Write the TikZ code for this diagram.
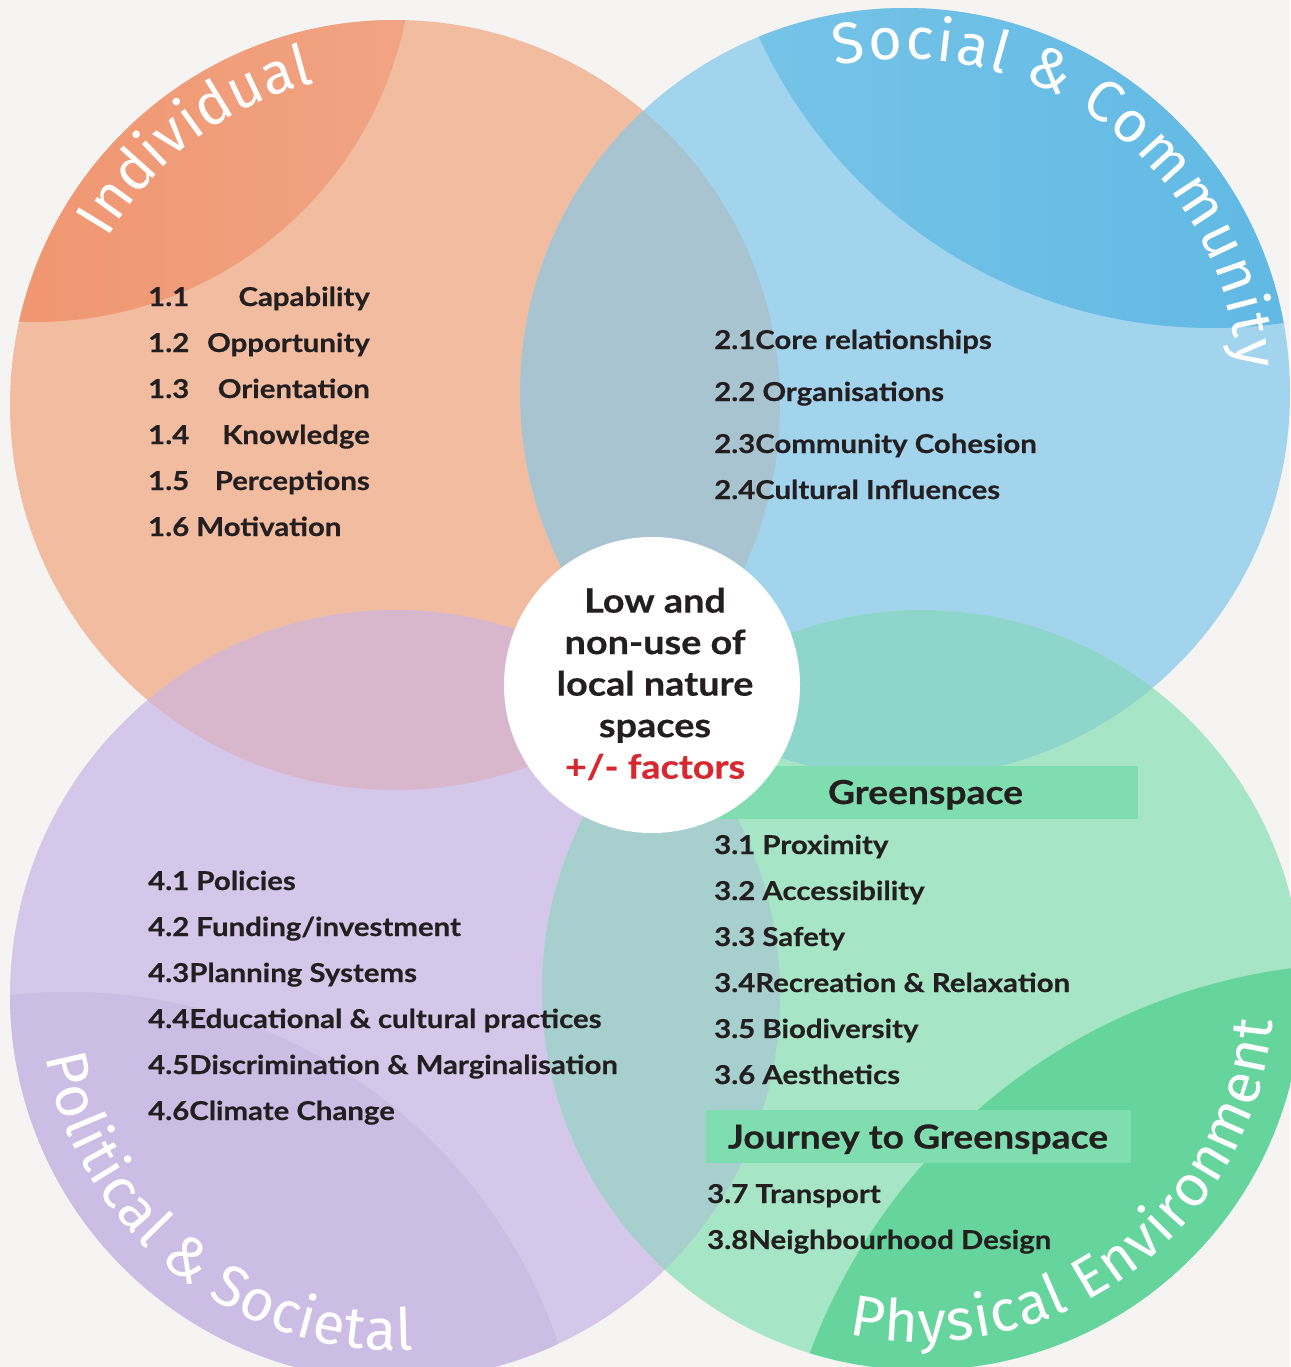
\documentclass[tikz,border=0pt]{standalone}
\usepackage{fontspec}
\setmainfont{Lato}[FakeStretch=1.13, BoldFeatures={FakeBold=0.5}]
\newfontfamily\curvefont{Fira Sans}
\usetikzlibrary{decorations.text}
\definecolor{paper}{HTML}{F5F4F2}
\definecolor{inkdark}{HTML}{231F20}
\definecolor{factorred}{HTML}{D7282F}
\definecolor{indfill}{HTML}{F2BCA0}
\definecolor{indcapL}{HTML}{EE8A5E}
\definecolor{indcapR}{HTML}{F1A484}
\definecolor{socfill}{HTML}{A3D4EE}
\definecolor{soccapL}{HTML}{78C4E8}
\definecolor{soccapR}{HTML}{4FB1E0}
\definecolor{envfill}{HTML}{A6E5C6}
\definecolor{envcap}{HTML}{66D49D}
\definecolor{polfill}{HTML}{D4C7E9}
\definecolor{polcap}{HTML}{CCBDE5}
\definecolor{indsoc}{HTML}{A9C4D1}
\definecolor{indpol}{HTML}{D8B7CD}
\definecolor{socenv}{HTML}{8ED6CB}
\definecolor{polenv}{HTML}{A6CFCD}
\definecolor{headgreen}{HTML}{80DDB0}
\tikzstyle{itemtext}=[anchor=base west, inner sep=0, text=inkdark, font=\fontsize{26}{30}\selectfont\bfseries]
\tikzstyle{itemright}=[itemtext, anchor=base east]
\tikzstyle{headbox}=[fill=headgreen, minimum width=425, minimum height=53, inner sep=0, text height=24, text depth=0, text=inkdark, font=\fontsize{33}{40}\selectfont\bfseries]
\tikzstyle{curvelabel}=[decorate]

\begin{document}
\begin{tikzpicture}[x=1pt,y=1pt]
  \useasboundingbox (0,0) rectangle (1290,-1367);
  \fill[paper] (0,0) rectangle (1290,-1367);

  \coordinate (ind) at (395,-405);
  \coordinate (soc) at (905,-393);
  \coordinate (env) at (922,-990);
  \coordinate (pol) at (395,-995);

  % the four circles
  \fill[indfill] (ind) circle (385);
  \fill[socfill] (soc) circle (385);
  \fill[polfill] (pol) circle (385);
  \fill[envfill] (env) circle (380);

  % darker caps
  \begin{scope}
    \clip (ind) circle (385);
    \shade[left color=indcapL, right color=indcapR] (35,56) circle (378);
  \end{scope}
  \begin{scope}
    \clip (soc) circle (385);
    \shade[left color=soccapL, right color=soccapR] (1212,170) circle (498);
  \end{scope}
  \begin{scope}
    \clip (env) circle (380);
    \fill[envcap] (1370,-1560) circle (597);
  \end{scope}
  \begin{scope}
    \clip (pol) circle (385);
    \fill[polcap] (69,-1508) circle (516);
  \end{scope}

  % overlaps
  \begin{scope}
    \clip (ind) circle (385);
    \fill[indsoc] (soc) circle (385);
    \fill[indpol] (pol) circle (385);
  \end{scope}
  \begin{scope}
    \clip (env) circle (380);
    \fill[socenv] (soc) circle (385);
    \fill[polenv] (pol) circle (385);
  \end{scope}

  % curved titles
  \path[curvelabel, decoration={text along path, text align={fit to path}, text color=white,
    text={|\curvefont\fontsize{58}{60}\selectfont|Individual}}]
    (ind) ++(150:332) arc[start angle=150, end angle=104, radius=332];
  \path[curvelabel, decoration={text along path, text align={fit to path}, text color=white,
    text={|\curvefont\fontsize{58}{60}\selectfont|Social {\&} Community}}]
    (soc) ++(102:334) arc[start angle=102, end angle=4, radius=334];
  \path[curvelabel, decoration={text along path, text align={fit to path}, text color=white,
    text={|\curvefont\fontsize{58}{60}\selectfont|Political {\&} Societal}}]
    (pol) ++(190:355) arc[start angle=190, end angle=273, radius=355];
  \path[curvelabel, decoration={text along path, text align={fit to path}, text color=white,
    text={|\curvefont\fontsize{58}{60}\selectfont|Physical Environment}}]
    (env) ++(258:352) arc[start angle=258, end angle=355, radius=352];

  % individual
  \foreach \n/\lab [count=\i] in {1.1/Capability, 1.2/Opportunity, 1.3/Orientation, 1.4/Knowledge, 1.5/Perceptions}
  {
    \node[itemtext] (indnum\i) at (148,{-306-46*(\i-1)}) {\n};
    \node[itemright] (indlab\i) at (370,{-306-46*(\i-1)}) {\lab};
  }
  \node[itemtext] (indlab6) at (148,-536) {1.6 Motivation};

  % social & community
  \foreach \y/\txt [count=\i] in {349/2.1Core relationships, 401/2.2 Organisations, 453/2.3Community Cohesion, 499/2.4Cultural Influences}
    \node[itemtext] (soclab\i) at (714,-\y) {\txt};

  % political & societal
  \foreach \txt [count=\i] in {4.1 Policies, 4.2 Funding/investment, 4.3Planning Systems, 4.4Educational \& cultural practices, 4.5Discrimination \& Marginalisation, 4.6Climate Change}
    \node[itemtext] (pollab\i) at (148,{-890-46*(\i-1)}) {\txt};

  % physical environment
  \node[headbox] (greenhead) at (925.5,-792) {Greenspace};
  \foreach \txt [count=\i] in {3.1 Proximity, 3.2 Accessibility, 3.3 Safety, 3.4Recreation \& Relaxation, 3.5 Biodiversity, 3.6 Aesthetics}
    \node[itemtext] (envlab\i) at (714,{-854-46*(\i-1)}) {\txt};
  \node[headbox] (journeyhead) at (918,-1136.5) {Journey to Greenspace};
  \node[itemtext] (envlab7) at (707,-1203) {3.7 Transport};
  \node[itemtext] (envlab8) at (707,-1249) {3.8Neighbourhood Design};

  % centre
  \node[circle, fill=white, minimum size=296, inner sep=0] (hub) at (652,-685) {};
  \node[align=center, inner sep=0, text=inkdark, font=\fontsize{33.5}{41.5}\selectfont\bfseries] (hubtext) at (655,-684)
    {Low and\\non-use of\\local nature\\spaces\\\textcolor{factorred}{+/- factors}};
\end{tikzpicture}
\end{document}
